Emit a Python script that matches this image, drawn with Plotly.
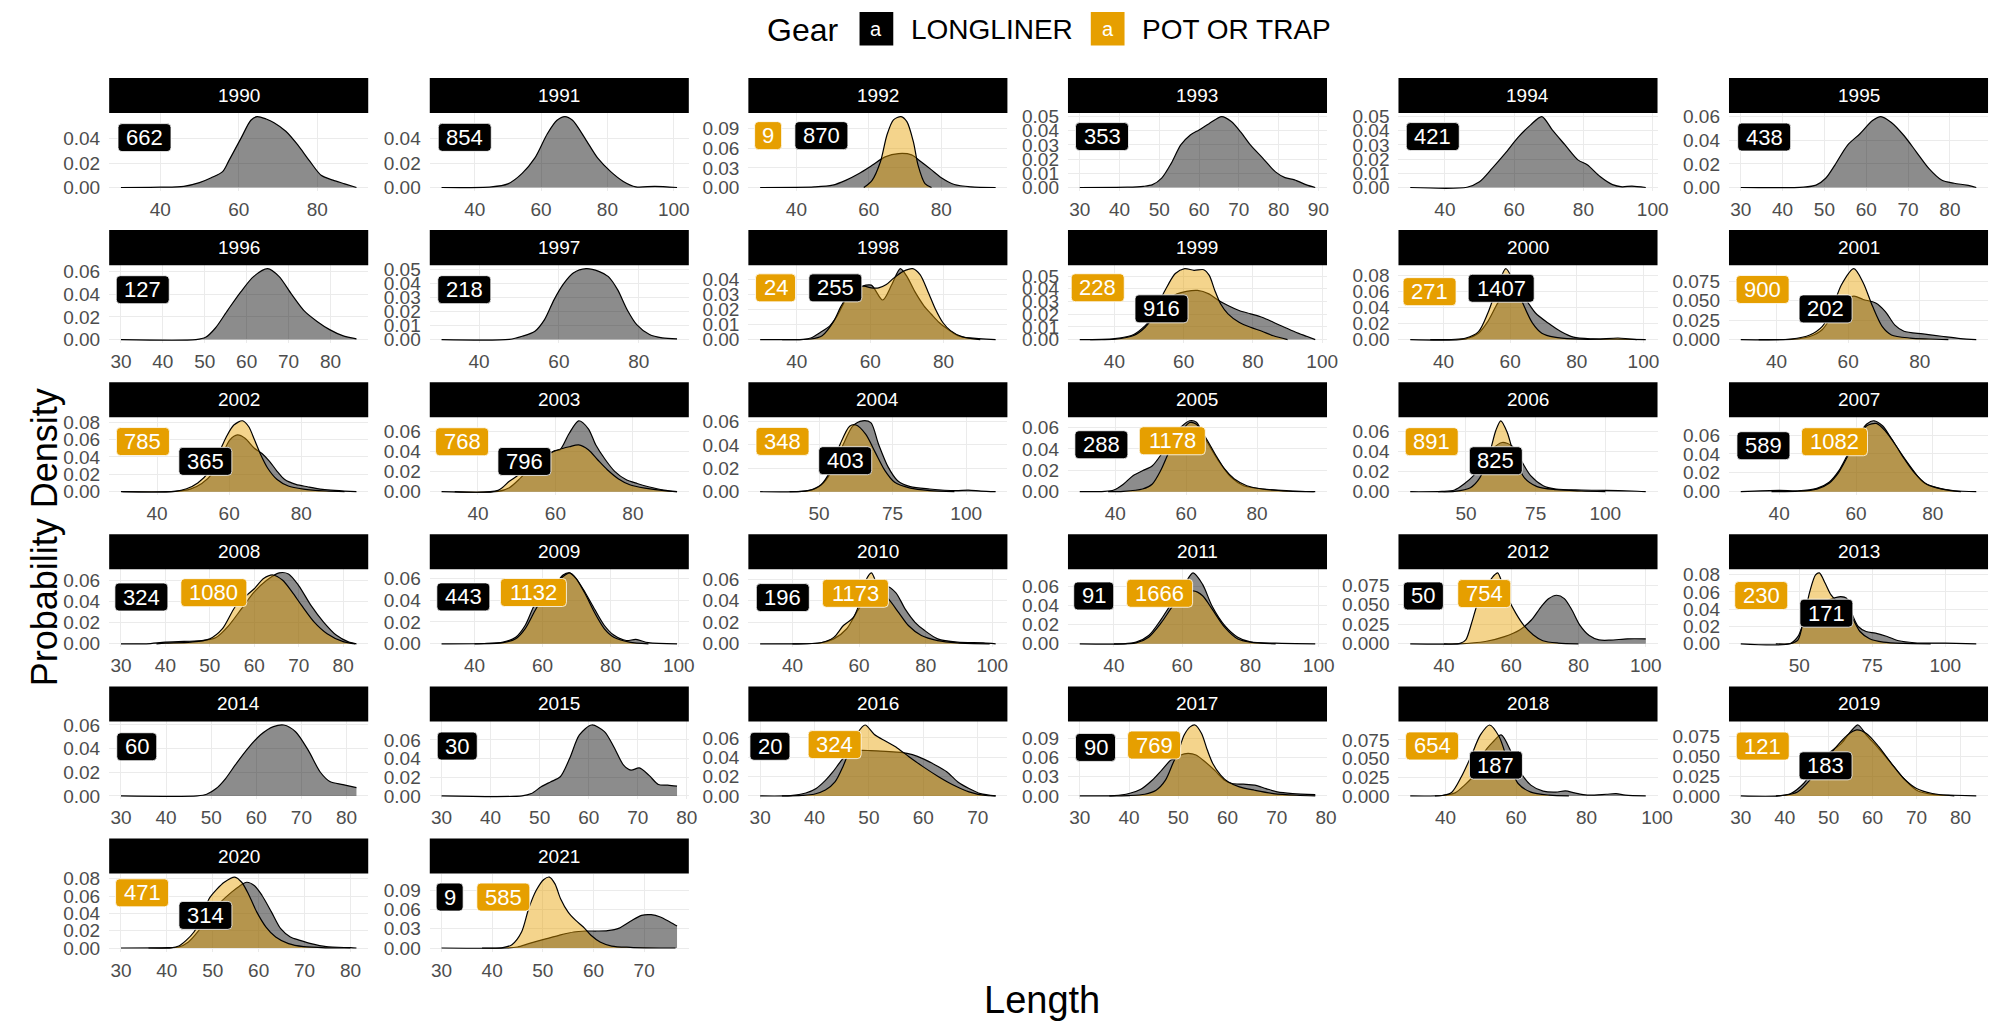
import plotly.graph_objects as go

# ---------------------------------------------------------------------------
# Length-frequency densities by year and gear (x = length, y = density)
# ---------------------------------------------------------------------------
years = [1990, 1991, 1992, 1993, 1994, 1995, 1996, 1997, 1998, 1999, 2000,
         2001, 2002, 2003, 2004, 2005, 2006, 2007, 2008, 2009, 2010, 2011,
         2012, 2013, 2014, 2015, 2016, 2017, 2018, 2019, 2020, 2021]

n_longliner = [662, 854, 870, 353, 421, 438, 127, 218, 255, 916, 1407, 202,
               365, 796, 403, 288, 825, 589, 324, 443, 196, 91, 50, 171, 60,
               30, 20, 90, 187, 183, 314, 9]
n_pot = [None, None, 9, None, None, None, None, None, 24, 228, 271, 900, 785,
         768, 348, 1178, 891, 1082, 1080, 1132, 1173, 1666, 754, 230, None,
         None, 324, 769, 654, 121, 471, 585]

# LONGLINER density curves
ll1990 = ([30, 40, 46, 50, 53, 55.9, 57.5, 60.7, 63.1, 64.7, 67, 69, 72, 75, 78, 81, 84, 87, 90],
          [0, 0.0003, 0.001, 0.004, 0.008, 0.013, 0.022, 0.041, 0.055, 0.058, 0.056, 0.053, 0.046, 0.035, 0.022, 0.010, 0.006, 0.003, 0])
ll1991 = ([30, 45, 50, 54.3, 58.1, 61.9, 64.8, 67.2, 69.5, 73.3, 77.1, 81, 84.8, 88.6, 94.3, 101],
          [0, 0.0005, 0.003, 0.0116, 0.024, 0.044, 0.055, 0.058, 0.055, 0.040, 0.024, 0.013, 0.005, 0.0005, 0.001, 0])
ll1992 = ([30, 45, 50, 53.6, 57.3, 60.9, 64.5, 68.2, 71.8, 74.5, 77.3, 80, 83.6, 88.2, 95],
          [0, 0.001, 0.0036, 0.011, 0.0215, 0.034, 0.047, 0.052, 0.050, 0.039, 0.027, 0.015, 0.0046, 0.001, 0])
ll1993 = ([30, 42, 46, 48.3, 50.6, 53, 55.4, 57.8, 60, 62.5, 65.7, 68.1, 70.5, 72.9, 76, 79.2, 81.6, 84, 87, 89.2],
          [0, 0.0002, 0.0008, 0.002, 0.0066, 0.017, 0.030, 0.037, 0.0406, 0.045, 0.050, 0.0465, 0.039, 0.030, 0.0207, 0.011, 0.007, 0.0054, 0.0019, 0])
ll1994 = ([30, 46.4, 50, 53.7, 57.4, 61, 64.7, 68, 71, 74.7, 78.4, 81.1, 84.8, 88.4, 91.2, 94, 98],
          [0, 0.0002, 0.004, 0.0136, 0.024, 0.035, 0.044, 0.050, 0.0406, 0.030, 0.0195, 0.016, 0.0077, 0.002, 0.0005, 0.001, 0])
ll1995 = ([30, 45, 48, 50.3, 52.5, 55.5, 58.5, 61.5, 63.5, 66, 69, 72, 75, 78, 81, 84, 86.3],
          [0, 0.0003, 0.002, 0.0078, 0.019, 0.0357, 0.0455, 0.0566, 0.060, 0.055, 0.044, 0.030, 0.016, 0.0064, 0.0036, 0.002, 0])
ll1996 = ([30, 47.9, 50.2, 52.5, 55.5, 58.6, 61.7, 65, 67.7, 70.7, 73.8, 76.8, 79.8, 82.9, 86.2],
          [0, 0, 0.002, 0.010, 0.026, 0.042, 0.0556, 0.0624, 0.0556, 0.040, 0.025, 0.016, 0.0088, 0.0035, 0.0006])
ll1997 = ([30.6, 47.6, 50.8, 54, 56.4, 58.8, 61.2, 63.6, 66.8, 70, 72.4, 74.7, 77.1, 79.5, 82.7, 85.9, 89.6],
          [0, 0.0002, 0.0024, 0.006, 0.0143, 0.0286, 0.040, 0.0476, 0.0507, 0.0488, 0.045, 0.0357, 0.0214, 0.0107, 0.0036, 0.0012, 0.0005])
ll1998 = ([30, 41.7, 43.8, 46.4, 49, 51, 53.1, 55.1, 57.7, 60.3, 63.4, 65.9, 68.2, 70, 72.1, 74.7, 76.7, 78.8, 80.8, 83.9, 87, 94.2],
          [0, 0.0002, 0.0011, 0.0048, 0.0092, 0.0158, 0.0257, 0.0323, 0.0356, 0.0363, 0.0264, 0.0367, 0.0473, 0.0422, 0.0323, 0.0224, 0.0169, 0.0114, 0.0075, 0.0026, 0.0011, 0])
ll1999 = ([30, 40.1, 45.6, 48.9, 51.1, 53.2, 55.4, 58.1, 60.8, 64, 67.3, 70, 72.8, 76, 79.3, 82.6, 85.9, 89.1, 92.4, 95.7, 98],
          [0, 0.0008, 0.004, 0.011, 0.0176, 0.0255, 0.0313, 0.036, 0.038, 0.0387, 0.036, 0.031, 0.0268, 0.0229, 0.0203, 0.0176, 0.0137, 0.0097, 0.0058, 0.0024, 0])
ll2000 = ([30, 46.7, 50.5, 53.3, 56.2, 59, 61.9, 64.8, 67.6, 71.4, 75.2, 79, 84.8, 92, 100.7],
          [0, 0.001, 0.008, 0.0226, 0.045, 0.0616, 0.0636, 0.049, 0.033, 0.0205, 0.010, 0.003, 0.0008, 0.0005, 0])
ll2001 = ([30, 45, 49.3, 52.8, 55.4, 58.1, 61.6, 64.2, 67.7, 70.4, 73, 75.6, 80.9, 86.1, 91.4, 95.8],
          [0, 0.0005, 0.004, 0.013, 0.030, 0.049, 0.0557, 0.0515, 0.047, 0.036, 0.019, 0.0107, 0.0073, 0.0043, 0.0013, 0])
ll2002 = ([30, 45, 49.2, 52.4, 55.5, 58.1, 60.2, 62.3, 64.4, 67, 69.1, 71.2, 73.3, 75.4, 78.5, 81.7, 85.9, 95.3],
          [0, 0.0004, 0.003, 0.0095, 0.0216, 0.0425, 0.0596, 0.0653, 0.0615, 0.050, 0.044, 0.035, 0.0235, 0.014, 0.0084, 0.0057, 0.0027, 0])
ll2003 = ([30.6, 45.2, 48.1, 51, 53.9, 56.8, 59.7, 61.2, 63.5, 66, 68.5, 70.4, 72.9, 75.3, 78.2, 81.1, 84, 88, 91.4],
          [0, 0.0003, 0.004, 0.0138, 0.0254, 0.0336, 0.041, 0.042, 0.058, 0.071, 0.063, 0.047, 0.032, 0.0204, 0.0122, 0.0082, 0.005, 0.0016, 0])
ll2004 = ([30, 44.1, 48.5, 51.7, 55, 58.3, 61.5, 64.8, 67.6, 70.2, 73.5, 76.7, 81, 87.6, 96.3, 100.7, 105, 110],
          [0, 0.0003, 0.0023, 0.008, 0.021, 0.0407, 0.0563, 0.0606, 0.059, 0.0407, 0.021, 0.0094, 0.0043, 0.0023, 0.0009, 0.0014, 0.0005, 0])
ll2005 = ([30, 37, 39.6, 42.3, 45, 47.7, 50.4, 53, 55.7, 58.4, 61, 62.9, 65.5, 69.1, 72.7, 76.2, 81.6, 88.8, 96.4],
          [0, 0.0003, 0.0016, 0.007, 0.015, 0.0196, 0.024, 0.035, 0.049, 0.060, 0.0663, 0.065, 0.049, 0.029, 0.0134, 0.0056, 0.0025, 0.0009, 0])
ll2006 = ([30, 41.4, 45.9, 49.3, 52.7, 56.1, 59.5, 63, 66.4, 69.8, 73.2, 77.7, 82.3, 91.4, 100.5, 109.5, 114.5],
          [0, 0.0003, 0.0017, 0.0076, 0.016, 0.029, 0.0425, 0.049, 0.0458, 0.031, 0.016, 0.006, 0.0027, 0.0017, 0.0013, 0.0007, 0])
ll2007 = ([30, 40, 44.9, 49.8, 53, 55.5, 57.9, 60.3, 62.8, 64.7, 66.9, 69.3, 71.8, 74.3, 77.5, 80.8, 85.7, 91.3],
          [0, 0.0014, 0.001, 0.0035, 0.010, 0.022, 0.040, 0.0575, 0.0716, 0.0751, 0.0698, 0.0557, 0.040, 0.0258, 0.010, 0.0046, 0.001, 0])
ll2008 = ([30, 35.7, 40, 44.2, 48.5, 51.4, 54.2, 57.1, 60, 62.8, 65.6, 67.7, 70, 72.8, 75.6, 78.5, 81.3, 83],
          [0, 0, 0.0016, 0.0023, 0.003, 0.006, 0.017, 0.033, 0.049, 0.060, 0.067, 0.066, 0.055, 0.036, 0.0205, 0.008, 0.0016, 0])
ll2009 = ([30.3, 42.8, 48.4, 52.1, 54.9, 57.7, 60.4, 63.2, 66, 67.9, 69.8, 72.5, 75.3, 78.1, 80.9, 84.6, 87.4, 91.1, 99.5],
          [0, 0.0003, 0.0016, 0.006, 0.017, 0.036, 0.046, 0.052, 0.063, 0.065, 0.060, 0.047, 0.0316, 0.017, 0.008, 0.003, 0.004, 0.001, 0])
ll2010 = ([30.3, 48.5, 52.4, 56.3, 59.2, 62.2, 65.1, 68, 71, 73.9, 76.8, 79.7, 83.6, 89.5, 97.3, 101],
          [0, 0.001, 0.0046, 0.014, 0.029, 0.043, 0.0508, 0.054, 0.0477, 0.032, 0.020, 0.0123, 0.0046, 0.0015, 0.0009, 0])
ll2011 = ([30, 42.8, 46.5, 50.2, 53.9, 57.6, 60.4, 63.2, 66, 68.8, 72.5, 76.3, 80, 87.4, 99],
          [0, 0, 0.0017, 0.0086, 0.0257, 0.046, 0.060, 0.0737, 0.0617, 0.039, 0.0189, 0.0069, 0.002, 0.0007, 0])
ll2012 = ([30, 44.2, 52.3, 58, 62.5, 66, 68.9, 71.2, 73.5, 75.8, 78.1, 80.4, 83.2, 86.1, 89.5, 94.6, 100],
          [0, 0, 0.003, 0.0093, 0.0178, 0.0305, 0.0475, 0.058, 0.0623, 0.058, 0.043, 0.024, 0.0106, 0.005, 0.0047, 0.0064, 0.0064])
ll2013 = ([30, 47, 49.6, 51.6, 53.6, 56.3, 58.9, 61.6, 64.2, 66.2, 68.2, 70.2, 72.9, 76.1, 80.1, 84.1, 89.4, 100, 110.6],
          [0, 0.0004, 0.0085, 0.026, 0.041, 0.049, 0.049, 0.0527, 0.0546, 0.0527, 0.0335, 0.020, 0.0142, 0.0123, 0.0085, 0.0035, 0.0012, 0.0008, 0])
ll2014 = ([30, 46.9, 49, 51.1, 53.2, 55.3, 58.1, 60.9, 63.8, 66.1, 68.7, 71.5, 74.2, 76.4, 79.2, 82.2],
          [0, 0, 0.0014, 0.0062, 0.0147, 0.026, 0.040, 0.0515, 0.0586, 0.060, 0.0543, 0.0387, 0.020, 0.0119, 0.0096, 0.007])
ll2015 = ([30, 46.4, 48.3, 50.3, 52.2, 54.2, 56.1, 58.1, 60.6, 63.2, 65.1, 67.1, 68.6, 70.3, 72.3, 74.2, 76.1, 78],
          [0, 0, 0.0025, 0.0097, 0.015, 0.0205, 0.040, 0.0654, 0.0761, 0.069, 0.0528, 0.033, 0.0276, 0.030, 0.022, 0.0122, 0.0115, 0.0104])
ll2016 = ([30, 35.6, 38.4, 40.3, 42, 43.4, 44.8, 46.2, 48.3, 50.3, 53.1, 55.9, 58, 60.1, 62.2, 64.3, 66.3, 68.4, 70.5, 73.3],
          [0, 0.0003, 0.003, 0.0077, 0.016, 0.025, 0.0356, 0.0443, 0.047, 0.0468, 0.046, 0.045, 0.0426, 0.038, 0.032, 0.025, 0.0147, 0.0077, 0.0024, 0])
ll2017 = ([30, 37, 40, 42.3, 44.7, 46.6, 48.5, 49.6, 50.5, 52, 53.6, 55.5, 57.4, 59.4, 60.9, 63.2, 65.5, 67.8, 70.1, 73.2, 77.8],
          [0, 0.0005, 0.0037, 0.010, 0.0246, 0.040, 0.056, 0.0586, 0.064, 0.0665, 0.064, 0.053, 0.040, 0.0246, 0.0194, 0.0183, 0.0168, 0.0115, 0.0063, 0.0037, 0.0021])
ll2018 = ([30, 39, 42.7, 45.4, 48.1, 50.8, 53.4, 55.8, 58.8, 61.5, 64.2, 67.7, 71.3, 74, 76.6, 80.2, 85.6, 88.4, 91, 96.8],
          [0, 0.0005, 0.004, 0.0144, 0.0278, 0.057, 0.072, 0.0817, 0.057, 0.030, 0.0144, 0.0063, 0.005, 0.0067, 0.004, 0.001, 0.0022, 0.003, 0.001, 0])
ll2019 = ([30, 38.6, 41.4, 44.3, 47.1, 50, 52.9, 55, 56.7, 58.6, 61.4, 64.3, 67.1, 70, 73.6, 78.6, 83.6],
          [0, 0, 0.003, 0.0157, 0.0369, 0.0538, 0.0665, 0.0814, 0.0898, 0.0771, 0.060, 0.041, 0.022, 0.0072, 0.002, 0.0008, 0])
ll2020 = ([30, 40.2, 42.6, 44.7, 46.7, 49.2, 51.7, 54.1, 55.8, 57.4, 59.1, 60.7, 62.8, 64.8, 66.9, 69, 71.4, 74.7, 80, 81.3],
          [0, 0.0004, 0.0012, 0.007, 0.0185, 0.0377, 0.053, 0.0646, 0.0715, 0.076, 0.072, 0.061, 0.0415, 0.0223, 0.0127, 0.0088, 0.005, 0.0015, 0.0004, 0])
ll2021 = ([30, 42.8, 45, 47.2, 50.2, 53.2, 56.1, 58.4, 60.6, 62.8, 65.1, 67.3, 69.5, 71.4, 73.2, 75.1, 76.5],
          [0, 0, 0.0016, 0.0068, 0.0135, 0.0198, 0.025, 0.0265, 0.0265, 0.027, 0.031, 0.0416, 0.051, 0.052, 0.0484, 0.0405, 0.0343])

# POT OR TRAP density curves
pt1992 = ([58.6, 60.9, 63.2, 65, 66.8, 68.9, 70.5, 72.3, 73.6, 75.5, 77.3],
          [0, 0.011, 0.0395, 0.0805, 0.1036, 0.1087, 0.101, 0.070, 0.034, 0.006, 0])
pt1998 = ([36, 43.8, 46.9, 50, 52, 54.1, 56.2, 58.2, 60.3, 62.3, 64.4, 66.4, 69, 71.6, 73.6, 75.7, 77.8, 79.8, 81.9, 85, 90],
          [0, 0.0004, 0.0026, 0.012, 0.022, 0.030, 0.0334, 0.0356, 0.0345, 0.0345, 0.0367, 0.041, 0.0455, 0.0473, 0.0433, 0.0323, 0.0202, 0.0114, 0.006, 0.002, 0])
pt1999 = ([33, 40.1, 45.6, 48.9, 51.1, 53.2, 55.4, 57.6, 60.3, 63, 65.8, 67.4, 69, 70.7, 72.8, 76, 79.3, 82.6, 85.9, 90],
          [0, 0.0003, 0.0032, 0.0097, 0.0176, 0.031, 0.0426, 0.052, 0.0558, 0.0545, 0.055, 0.0505, 0.0387, 0.028, 0.0203, 0.0137, 0.0097, 0.0066, 0.003, 0])
pt2000 = ([36, 46.7, 50.5, 53.3, 56.2, 58.7, 61, 63.8, 66.7, 69.5, 73.3, 79, 86, 92.4, 98],
          [0, 0.002, 0.010, 0.033, 0.066, 0.088, 0.072, 0.045, 0.0205, 0.008, 0.003, 0.0008, 0.0005, 0.002, 0])
pt2001 = ([35, 44, 49.3, 52.8, 55.4, 58.1, 61.6, 64.2, 66.8, 69.5, 72.1, 77.4, 82.6, 88],
          [0, 0.0008, 0.006, 0.017, 0.038, 0.070, 0.091, 0.073, 0.043, 0.017, 0.006, 0.002, 0.0008, 0])
pt2002 = ([30.4, 45, 48.2, 51.3, 54.5, 57.1, 59.2, 61.3, 63.7, 65.4, 67, 68.6, 70.7, 73.3, 76.4, 80.6, 86.9, 92],
          [0, 0.0004, 0.0034, 0.010, 0.0235, 0.044, 0.063, 0.0767, 0.0816, 0.075, 0.060, 0.044, 0.027, 0.014, 0.0065, 0.003, 0.0008, 0])
pt2003 = ([34, 45.2, 48.1, 50, 52, 54.9, 57.8, 60.7, 63.6, 66, 68.5, 70.9, 73.4, 76.3, 79.2, 83.1, 88, 91.4],
          [0, 0.0013, 0.0105, 0.0155, 0.022, 0.030, 0.037, 0.042, 0.045, 0.0468, 0.042, 0.032, 0.022, 0.0128, 0.007, 0.0036, 0.001, 0])
pt2004 = ([40, 46.3, 50.7, 53.9, 57.2, 60.4, 62.6, 65.9, 69.1, 72.4, 75.7, 81, 87.6, 96],
          [0, 0.0009, 0.006, 0.018, 0.0407, 0.056, 0.057, 0.049, 0.0336, 0.018, 0.008, 0.003, 0.0009, 0])
pt2005 = ([38, 42.3, 47.7, 50.4, 53, 55.7, 58.4, 61, 62.9, 65.5, 68.2, 70.9, 73.6, 77.1, 81.6, 88.8, 96],
          [0, 0.0003, 0.0025, 0.007, 0.021, 0.041, 0.055, 0.0647, 0.063, 0.0507, 0.035, 0.021, 0.0118, 0.0056, 0.0025, 0.0006, 0])
pt2006 = ([40, 45.9, 51.6, 55, 58.4, 60.7, 62.5, 64.8, 67.5, 70.9, 75.5, 82.3, 91.4, 100],
          [0, 0.0003, 0.004, 0.014, 0.0375, 0.061, 0.0706, 0.059, 0.034, 0.014, 0.005, 0.002, 0.0007, 0])
pt2007 = ([38, 45, 49.8, 53, 55.5, 57.9, 60.3, 62.8, 65.3, 67.7, 70.2, 72.6, 75.1, 78.4, 82.4, 87.3],
          [0, 0.0005, 0.0028, 0.009, 0.0205, 0.038, 0.0557, 0.0698, 0.0723, 0.064, 0.050, 0.0346, 0.0205, 0.008, 0.0028, 0])
pt2008 = ([38, 40, 45.7, 50, 52.8, 55.7, 57.8, 60, 62.1, 64.2, 66.4, 68.5, 70.7, 73.5, 76.4, 80, 82.7],
          [0, 0.0006, 0.0016, 0.0047, 0.014, 0.035, 0.044, 0.052, 0.0616, 0.065, 0.060, 0.049, 0.036, 0.0205, 0.0095, 0.002, 0])
pt2009 = ([40, 48.4, 52.1, 54.9, 57.7, 60.4, 63.2, 66, 67.9, 69.8, 72.5, 75.3, 78.1, 80.9, 85.5, 91.1],
          [0, 0.001, 0.0047, 0.014, 0.030, 0.044, 0.052, 0.0616, 0.065, 0.060, 0.0458, 0.0284, 0.014, 0.006, 0.0016, 0])
pt2010 = ([40, 48.5, 52.4, 55.3, 58.3, 60.2, 62.2, 63.7, 66, 68.9, 71.9, 74.8, 78.7, 83.6, 89.5, 99.2],
          [0, 0.001, 0.006, 0.017, 0.0246, 0.0385, 0.060, 0.066, 0.0508, 0.0415, 0.029, 0.017, 0.0077, 0.003, 0.0009, 0])
pt2011 = ([40, 46.5, 50.2, 53.9, 57.6, 60.4, 63.2, 66, 68.8, 72.5, 76.3, 80, 87.4],
          [0, 0.001, 0.0069, 0.022, 0.041, 0.051, 0.055, 0.050, 0.036, 0.017, 0.005, 0.0017, 0])
pt2012 = ([40, 44.8, 46.5, 48.2, 50, 51.7, 53.4, 55.1, 56, 57.4, 59.1, 61.4, 63.7, 66.6, 69.4, 74, 80],
          [0, 0.0005, 0.005, 0.026, 0.0517, 0.0665, 0.079, 0.0886, 0.091, 0.077, 0.058, 0.039, 0.024, 0.0114, 0.004, 0.001, 0])
pt2013 = ([42, 47, 49.6, 51.6, 53.6, 55.6, 56.9, 58.9, 60.9, 62.9, 65.5, 68.2, 70.8, 74.1, 78.8, 85.4, 95],
          [0, 0.0002, 0.0046, 0.0296, 0.060, 0.0796, 0.082, 0.070, 0.0565, 0.049, 0.042, 0.0296, 0.0142, 0.0058, 0.0019, 0.0004, 0])
pt2016 = ([34, 37.7, 39.9, 42, 43.8, 45.2, 46.5, 47.9, 49.3, 51, 53.1, 55.2, 57.3, 60, 62.8, 65.6, 68.4, 71.1, 73.3],
          [0, 0.0005, 0.0017, 0.006, 0.0147, 0.030, 0.0478, 0.065, 0.0733, 0.0635, 0.0565, 0.0496, 0.0408, 0.030, 0.0199, 0.011, 0.0042, 0.0007, 0])
pt2017 = ([36, 40, 43.2, 45.5, 47.4, 48.9, 50.1, 51.2, 52.4, 53.4, 54.7, 55.9, 57, 58.6, 60.1, 62.4, 65.5, 69.3, 74, 77.8],
          [0, 0.0005, 0.0026, 0.0089, 0.0246, 0.0508, 0.0717, 0.0953, 0.108, 0.111, 0.098, 0.0717, 0.0508, 0.0325, 0.022, 0.0141, 0.0089, 0.0037, 0.001, 0])
pt2018 = ([37, 39.1, 41.8, 44.5, 47.2, 49.9, 52.5, 55.2, 57.9, 60.6, 64.2, 69.5, 75],
          [0, 0.0005, 0.005, 0.0256, 0.0525, 0.0817, 0.095, 0.0795, 0.0435, 0.0166, 0.005, 0.001, 0])
pt2019 = ([38, 40, 42.9, 45.7, 48.6, 51.4, 54.3, 56.4, 58.6, 61.4, 64.3, 67.1, 70, 73.6, 78.6],
          [0, 0.0008, 0.005, 0.020, 0.041, 0.060, 0.0771, 0.0835, 0.079, 0.0623, 0.041, 0.022, 0.0093, 0.003, 0])
pt2020 = ([36, 40.9, 42.6, 44.2, 45.9, 47.5, 49.2, 50.9, 52.5, 54.8, 56.3, 57.9, 59.6, 61.6, 63.7, 66.5, 69.8, 74.7, 80],
          [0, 0.0002, 0.0023, 0.0088, 0.0185, 0.0338, 0.057, 0.068, 0.076, 0.082, 0.076, 0.061, 0.0415, 0.0242, 0.0127, 0.005, 0.0015, 0.0002, 0])
pt2021 = ([38, 42.1, 43.9, 45.8, 47.2, 48.7, 50.2, 51.3, 52.4, 53.5, 55, 56.5, 58, 59.5, 61.3, 63.6, 67.3, 70.2, 76.2],
          [0, 0.0005, 0.0052, 0.025, 0.0613, 0.090, 0.107, 0.1107, 0.10, 0.077, 0.056, 0.043, 0.0328, 0.0198, 0.0094, 0.003, 0.001, 0.0003, 0])

longliner_curves = [ll1990, ll1991, ll1992, ll1993, ll1994, ll1995, ll1996, ll1997,
                    ll1998, ll1999, ll2000, ll2001, ll2002, ll2003, ll2004, ll2005,
                    ll2006, ll2007, ll2008, ll2009, ll2010, ll2011, ll2012, ll2013,
                    ll2014, ll2015, ll2016, ll2017, ll2018, ll2019, ll2020, ll2021]
pot_curves = [None, None, pt1992, None, None, None, None, None, pt1998, pt1999,
              pt2000, pt2001, pt2002, pt2003, pt2004, pt2005, pt2006, pt2007,
              pt2008, pt2009, pt2010, pt2011, pt2012, pt2013, None, None,
              pt2016, pt2017, pt2018, pt2019, pt2020, pt2021]

# Axis breaks for each facet
x_ticks = [[40, 60, 80], [40, 60, 80, 100], [40, 60, 80], [30, 40, 50, 60, 70, 80, 90],
           [40, 60, 80, 100], [30, 40, 50, 60, 70, 80], [30, 40, 50, 60, 70, 80], [40, 60, 80],
           [40, 60, 80], [40, 60, 80, 100], [40, 60, 80, 100], [40, 60, 80],
           [40, 60, 80], [40, 60, 80], [50, 75, 100], [40, 60, 80],
           [50, 75, 100], [40, 60, 80], [30, 40, 50, 60, 70, 80], [40, 60, 80, 100],
           [40, 60, 80, 100], [40, 60, 80, 100], [40, 60, 80, 100], [50, 75, 100],
           [30, 40, 50, 60, 70, 80], [30, 40, 50, 60, 70, 80], [30, 40, 50, 60, 70], [30, 40, 50, 60, 70, 80],
           [40, 60, 80, 100], [30, 40, 50, 60, 70, 80], [30, 40, 50, 60, 70, 80], [30, 40, 50, 60, 70]]
Y04 = [0, 0.02, 0.04]
Y02 = [0, 0.02, 0.04, 0.06, 0.08]
Y01 = [0, 0.01, 0.02, 0.03, 0.04, 0.05]
Y03 = [0, 0.03, 0.06, 0.09]
Y025 = [0, 0.025, 0.05, 0.075]
y_ticks = [Y04, Y04, Y03, Y01, Y01, Y02, Y02, Y01, Y01, Y01, Y02, Y025,
           Y02, Y02, Y02, Y02, Y02, Y02, Y02, Y02, Y02, Y02, Y025, Y02,
           Y02, Y02, Y02, Y03, Y025, Y025, Y02, Y03]

# Count-label anchors (data coordinates of each facet)
longliner_label_at = [(36, 0.0408), (37, 0.041), (46.9, 0.0795), (35.6, 0.0359), (36.5, 0.0359),
                      (35.6, 0.0427), (35.2, 0.0439), (36.3, 0.0357), (50.5, 0.0345), (53.6, 0.0242),
                      (57.3, 0.0637), (53.7, 0.0394), (53.4, 0.0349), (52, 0.0303), (58.9, 0.0265),
                      (36.1, 0.0439), (60.7, 0.0308), (35.9, 0.0487), (34.6, 0.0442), (36.7, 0.043),
                      (37.1, 0.043), (34.1, 0.0497), (33.9, 0.0614), (59.3, 0.0354), (33.5, 0.0416),
                      (33.2, 0.0535), (31.8, 0.0513), (33.2, 0.0759), (54.3, 0.0413), (49.3, 0.0381),
                      (48.4, 0.0377), (31.6, 0.0795)]
pot_label_at = [None, None, (32.2, 0.0795), None, None, None, None, None, (34.2, 0.0345),
                (35.2, 0.0408), (35.8, 0.0595), (36.1, 0.0643), (36.1, 0.0577), (35.9, 0.050),
                (37.6, 0.043), (56.1, 0.0476), (37.7, 0.0498), (54.4, 0.0529), (50.9, 0.0483),
                (57.3, 0.047), (58.9, 0.047), (53.4, 0.0525), (52, 0.0644), (37, 0.0558), None,
                None, (43.7, 0.053), (45.1, 0.0796), (36.2, 0.0669), (35, 0.0631), (34.6, 0.0638),
                (42.2, 0.0795)]

# ---------------------------------------------------------------------------
# Page geometry (pixels) and styling
# ---------------------------------------------------------------------------
W, H = 2008, 1027
col_left = [110, 433, 754, 1076, 1409, 1742]
panel_w = 261
strip_top0, row_pitch, strip_h, panel_h = 72, 154.2, 35.5, 79.1
FONT = "Liberation Sans, Arial, sans-serif"
BLACK, ORANGE = "#000000", "#E69F00"
GRAY_FILL = "rgba(0,0,0,0.45)"
ORANGE_FILL = "rgba(230,159,0,0.45)"
TICK_COLOR = "#4D4D4D"

fig = go.Figure()
shapes, annotations = [], []


def add_curve(curve, fill, ax):
    xs, ys = curve
    fig.add_trace(go.Scatter(
        x=xs, y=ys, mode="lines", fill="tozeroy", fillcolor=fill,
        line=dict(color="black", width=1.2, shape="spline", smoothing=0.8),
        xaxis="x" + ax, yaxis="y" + ax, showlegend=False, hoverinfo="skip"))


def rounded_box_path(w, h, r):
    """Rounded rectangle centred on (0, 0), in pixel offsets."""
    a, b = w / 2, h / 2
    return (f"M {-a + r},{-b} L {a - r},{-b} Q {a},{-b} {a},{-b + r} "
            f"L {a},{b - r} Q {a},{b} {a - r},{b} L {-a + r},{b} "
            f"Q {-a},{b} {-a},{b - r} L {-a},{-b + r} Q {-a},{-b} {-a + r},{-b} Z")


def add_count_label(pos, count, bg, ax):
    text = str(count)
    w, h = 13 * len(text) + 14, 28
    shapes.append(dict(
        type="path", xref="x" + ax, yref="y" + ax,
        xsizemode="pixel", ysizemode="pixel", xanchor=pos[0], yanchor=pos[1],
        path=rounded_box_path(w, h, 4), fillcolor=bg,
        line=dict(color="white", width=0.8), layer="above"))
    annotations.append(dict(
        x=pos[0], y=pos[1], xref="x" + ax, yref="y" + ax, text=text,
        showarrow=False, xanchor="center", yanchor="middle",
        font=dict(family=FONT, size=22, color="white")))


for i, year in enumerate(years):
    r, c = divmod(i, 6)
    ax = "" if i == 0 else str(i + 1)
    left = col_left[c]
    right = left + panel_w
    s_top = strip_top0 + r * row_pitch
    p_top = s_top + strip_h
    p_bot = p_top + panel_h

    ll = longliner_curves[i]
    pt = pot_curves[i]
    add_curve(ll, GRAY_FILL, ax)
    if pt is not None:
        add_curve(pt, ORANGE_FILL, ax)

    all_x = list(ll[0]) + (list(pt[0]) if pt else [])
    all_y = list(ll[1]) + (list(pt[1]) if pt else [])
    x0, x1 = min(all_x), max(all_x)
    ymax = max(all_y)
    xpad = 0.05 * (x1 - x0)

    yt = y_ticks[i]
    dec = 3 if 0.025 in yt else 2
    common = dict(showgrid=True, gridcolor="#EBEBEB", gridwidth=1.2,
                  zeroline=False, showline=False, ticks="",
                  tickfont=dict(family=FONT, size=19, color=TICK_COLOR))
    fig.layout["xaxis" + ax] = dict(
        domain=[left / W, right / W], anchor="y" + ax,
        range=[x0 - xpad, x1 + xpad], tickvals=x_ticks[i],
        ticktext=[str(v) for v in x_ticks[i]], ticklabelstandoff=5, **common)
    fig.layout["yaxis" + ax] = dict(
        domain=[1 - p_bot / H, 1 - p_top / H], anchor="x" + ax,
        range=[-0.05 * ymax, 1.05 * ymax], tickvals=yt,
        ticktext=[f"{v:.{dec}f}" for v in yt], ticklabelstandoff=8, **common)

    # facet strip
    shapes.append(dict(type="rect", xref="paper", yref="paper",
                       x0=left / W, x1=right / W, y0=1 - p_top / H, y1=1 - s_top / H,
                       fillcolor="black", line=dict(width=0), layer="above"))
    annotations.append(dict(x=(left + right) / 2 / W, y=1 - (s_top + strip_h / 2) / H,
                            xref="paper", yref="paper", text=str(year), showarrow=False,
                            xanchor="center", yanchor="middle",
                            font=dict(family=FONT, size=19, color="white")))

    # sample-size labels
    if pot_label_at[i] is not None:
        add_count_label(pot_label_at[i], n_pot[i], ORANGE, ax)
    add_count_label(longliner_label_at[i], n_longliner[i], BLACK, ax)

# legend drawn across the top
annotations.append(dict(x=771 / W, y=1 - 23 / H, xref="paper", yref="paper", text="Gear",
                        showarrow=False, xanchor="left", yanchor="middle",
                        font=dict(family=FONT, size=32, color="black")))
for key_left, color, label in [(866, BLACK, "LONGLINER"), (1099, ORANGE, "POT OR TRAP")]:
    shapes.append(dict(type="rect", xref="paper", yref="paper",
                       x0=key_left / W, x1=(key_left + 34) / W,
                       y0=1 - 39 / H, y1=1 - 5 / H, fillcolor=color, line=dict(width=0)))
    annotations.append(dict(x=(key_left + 17) / W, y=1 - 22 / H, xref="paper", yref="paper",
                            text="a", showarrow=False, xanchor="center", yanchor="middle",
                            font=dict(family=FONT, size=20, color="white")))
    annotations.append(dict(x=(key_left + 50) / W, y=1 - 23 / H, xref="paper", yref="paper",
                            text=label, showarrow=False, xanchor="left", yanchor="middle",
                            font=dict(family=FONT, size=28, color="black")))

# axis titles
annotations.append(dict(x=1050 / W, y=1 - 1007 / H, xref="paper", yref="paper", text="Length",
                        showarrow=False, xanchor="center", yanchor="middle",
                        font=dict(family=FONT, size=38, color="black")))
annotations.append(dict(x=45 / W, y=1 - 538 / H, xref="paper", yref="paper",
                        text="Probability Density", textangle=-90, showarrow=False,
                        xanchor="center", yanchor="middle",
                        font=dict(family=FONT, size=36, color="black")))

fig.update_layout(width=W, height=H, margin=dict(l=0, r=0, t=0, b=0),
                  paper_bgcolor="white", plot_bgcolor="white",
                  shapes=shapes, annotations=annotations, showlegend=False,
                  font=dict(family=FONT))

fig.write_html("out.html")
